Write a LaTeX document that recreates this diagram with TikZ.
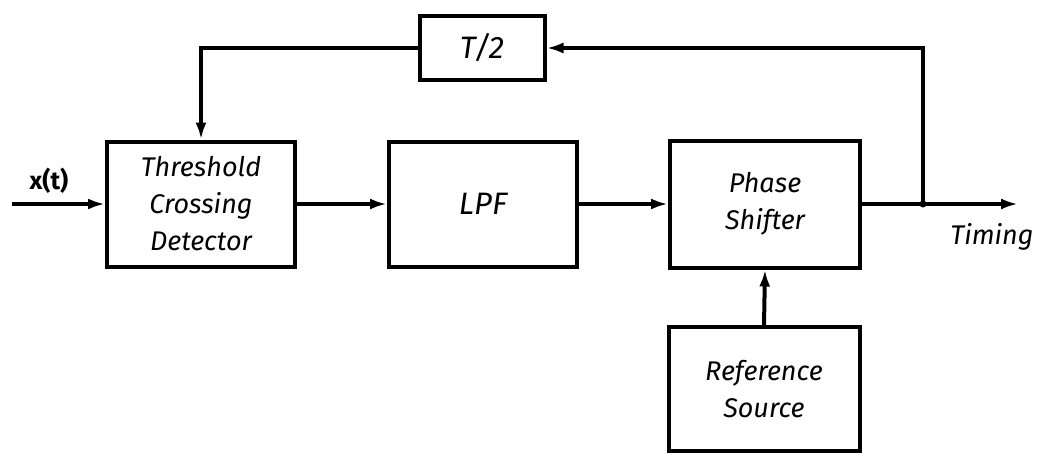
\documentclass[tikz,border=0pt]{standalone}
\usepackage{fontspec}
\setmainfont{Fira Sans}
\usetikzlibrary{arrows.meta}
\begin{document}
\begin{tikzpicture}[x=1pt,y=-1pt,
  blk/.style={draw,line width=4pt,align=center,font=\fontsize{27}{37}\selectfont\itshape,inner sep=0pt},
  big/.style={font=\fontsize{31}{37}\selectfont\itshape},
  lbl/.style={font=\fontsize{27}{30}\selectfont\itshape,inner sep=0pt},
  conn/.style={line width=4pt,-{Latex[length=17pt,width=11pt]}},
  wire/.style={line width=4pt}]
\useasboundingbox (0,0) rectangle (1040,453);
\node[blk,minimum width=188pt,minimum height=125pt] (tcd) at (201,204) {Threshold\\Crossing\\Detector};
\node[blk,big,minimum width=188pt,minimum height=125pt] (lpf) at (483,204) {LPF};
\node[blk,minimum width=190pt,minimum height=127pt] (ps) at (765,204) {Phase\\Shifter};
\node[blk,minimum width=191pt,minimum height=124pt] (rs) at (764,389) {Reference\\Source};
\node[blk,big,minimum width=125pt,minimum height=64pt] (t2) at (482,48) {T/2};
\coordinate (in) at (12,204);
\coordinate (j) at (923,204);
\coordinate (out) at (1018,204);
\node[lbl,font=\fontsize{25}{28}\selectfont\bfseries] (xt) at (49,181) {x(t)};
\node[lbl] (tim) at (992,237) {Timing};
\draw[conn] (in) -- (tcd.west);
\draw[conn] (tcd.east) -- (lpf.west);
\draw[conn] (lpf.east) -- (ps.west);
\draw[wire] (ps.east) -- (j);
\draw[conn] (j) -- (out);
\draw[conn] (rs.north) -- (ps.south);
\draw[conn] (j) |- (t2.east);
\draw[conn] (t2.west) -| (tcd.north);
\fill (j) circle (3.5pt);
\end{tikzpicture}
\end{document}
